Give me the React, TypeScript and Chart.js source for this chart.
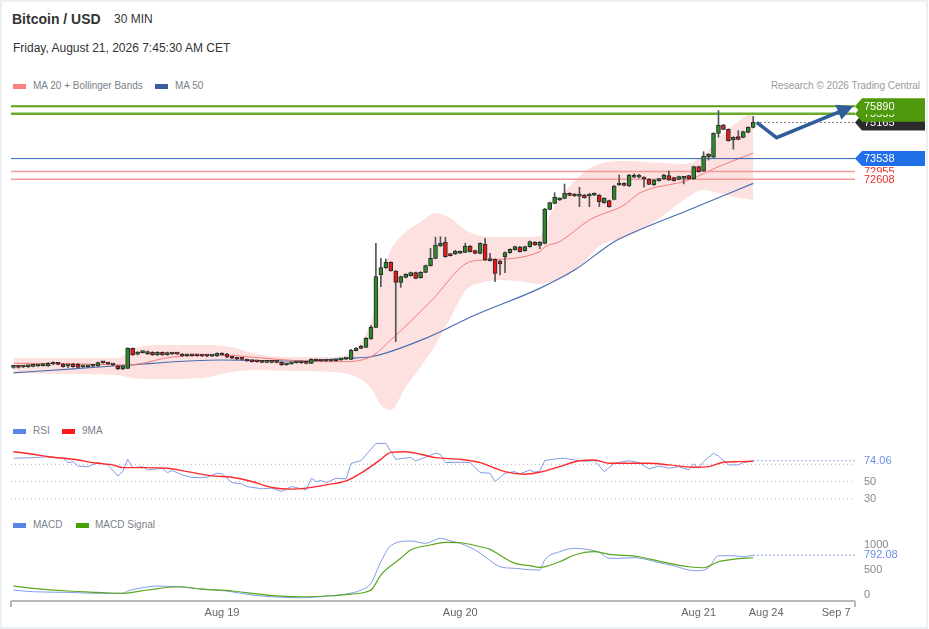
import React, { useEffect, useRef } from "react";
import { Chart, registerables } from "chart.js";

Chart.register(...registerables);

const FONT = "'Liberation Sans', Arial, Helvetica, sans-serif";
Chart.defaults.font.family = FONT;

// ---------------- data ----------------
const candleOpen = [
  64140, 64150, 64160, 64175, 64190, 64205, 64220, 64205, 64300, 64290,
  64295, 64210, 64295, 64280, 64165, 64170, 64195, 64205, 64355, 64320,
  64270, 64205, 64070, 64100, 65000, 64740, 64810, 64745, 64820, 64700,
  64820, 64700, 64760, 64750, 64745, 64665, 64670, 64665, 64660, 64655,
  64650, 64655, 64775, 64745, 64590, 64555, 64510, 64505, 64430, 64400,
  64395, 64370, 64375, 64370, 64370, 64260, 64300, 64350, 64355, 64345,
  64325, 64500, 64430, 64435, 64430, 64440, 64480, 64515, 64505, 64895,
  65000, 65045, 65420, 65945, 68300, 68630, 68870, 68480, 67970, 68195,
  68270, 68405, 68180, 68420, 68720, 69050, 69605, 69770, 69245, 69245,
  69280, 69320, 69605, 69395, 69275, 69695, 68945, 69005, 68930, 69110,
  69305, 69440, 69560, 69395, 69575, 69770, 69630, 69725, 71255, 71525,
  71675, 71750, 71975, 71945, 71850, 71900, 71855, 71890, 71900, 71555,
  71645, 71705, 72350, 72425, 72305, 72700, 72700, 72695, 72620, 72350,
  72545, 72620, 72770, 72680, 72605, 72650, 72770, 72620, 73175, 72980,
  73625, 73600, 74675, 75050, 74855, 74375, 74525, 74495, 74720, 74945,
];
const candleClose = [
  64150, 64145, 64175, 64180, 64205, 64220, 64250, 64325, 64295, 64280,
  64175, 64220, 64175, 64145, 64175, 64180, 64205, 64355, 64350, 64295,
  64250, 64070, 64205, 65000, 64700, 64760, 64830, 64850, 64700, 64820,
  64700, 64805, 64745, 64740, 64655, 64670, 64665, 64660, 64655, 64650,
  64660, 64775, 64700, 64600, 64555, 64510, 64505, 64430, 64400, 64395,
  64370, 64375, 64370, 64365, 64250, 64295, 64350, 64355, 64350, 64325,
  64505, 64430, 64435, 64430, 64440, 64475, 64515, 64520, 64925, 65000,
  65075, 65450, 65945, 68225, 68630, 68870, 68495, 67970, 68225, 68330,
  68405, 68150, 68420, 68720, 69050, 69650, 69725, 69125, 69170, 69380,
  69350, 69605, 69350, 69275, 69725, 68975, 69005, 68375, 68795, 69310,
  69455, 69575, 69350, 69580, 69805, 69650, 69775, 71270, 71555, 71795,
  71750, 71975, 71885, 71855, 71880, 71780, 71945, 71975, 71600, 71750,
  71375, 72305, 72425, 72335, 72800, 72770, 72800, 72620, 72380, 72575,
  72620, 72800, 72575, 72545, 72725, 72710, 72620, 73175, 72950, 73655,
  73730, 74675, 75050, 74855, 74345, 74495, 74405, 74750, 74945, 75165,
];
const candleHigh = [
  64190, 64190, 64215, 64220, 64245, 64260, 64290, 64360, 64385, 64330,
  64330, 64260, 64320, 64310, 64210, 64215, 64240, 64380, 64390, 64340,
  64290, 64230, 64225, 65030, 65020, 64850, 64880, 64880, 64850, 64850,
  64840, 64830, 64790, 64780, 64770, 64700, 64695, 64690, 64680, 64680,
  64690, 64800, 64800, 64770, 64610, 64570, 64530, 64520, 64450, 64420,
  64410, 64395, 64395, 64390, 64390, 64320, 64375, 64380, 64380, 64365,
  64530, 64520, 64455, 64455, 64460, 64500, 64540, 64545, 64950, 65030,
  65140, 65480, 66040, 69725, 69050, 69020, 68900, 68500, 68250, 68360,
  68430, 68430, 68450, 68750, 69500, 70000, 70025, 70000, 69270, 69410,
  69380, 69730, 69630, 69420, 69750, 69950, 69275, 69030, 68960, 69340,
  69480, 69600, 69585, 69600, 69830, 69800, 69800, 71300, 71580, 72005,
  71780, 72395, 72000, 71970, 72245, 71925, 71970, 72000, 71925, 71780,
  71670, 72330, 72800, 72450, 72830, 72850, 72830, 72720, 72640, 72600,
  72650, 72830, 72980, 72700, 72750, 72740, 72790, 73200, 73200, 73850,
  73760, 74700, 75700, 75080, 74880, 74520, 74795, 74775, 74970, 75430,
];
const candleLow = [
  64100, 64110, 64130, 64140, 64165, 64180, 64200, 64185, 64260, 64250,
  64150, 64130, 64150, 64120, 64140, 64145, 64170, 64190, 64320, 64270,
  64220, 64040, 64040, 64080, 64680, 64700, 64790, 64720, 64680, 64680,
  64680, 64690, 64720, 64720, 64640, 64640, 64645, 64640, 64630, 64630,
  64630, 64640, 64680, 64580, 64530, 64490, 64480, 64410, 64380, 64375,
  64350, 64350, 64345, 64340, 64230, 64240, 64280, 64330, 64320, 64300,
  64310, 64410, 64410, 64410, 64410, 64420, 64460, 64495, 64490, 64880,
  64985, 65030, 65400, 65930, 67775, 68600, 68470, 65300, 67745, 68170,
  68250, 68130, 68160, 68400, 68700, 69030, 69580, 69100, 69150, 69220,
  69260, 69300, 69330, 69250, 69250, 68950, 68920, 68000, 68300, 68400,
  69280, 69420, 69330, 69370, 69550, 69630, 69480, 69700, 71230, 71500,
  71650, 71730, 71860, 71830, 71375, 71760, 71375, 71870, 71380, 71530,
  71350, 71680, 72330, 72310, 72280, 72680, 72670, 72250, 72360, 72330,
  72520, 72600, 72550, 72520, 72580, 72400, 72600, 72600, 72930, 72960,
  73475, 73580, 74500, 74830, 74320, 73960, 74380, 74470, 74700, 74920,
];

const bandX = [0, 10, 21, 24, 30, 38, 44, 48, 56, 64, 68, 72, 74, 76, 79, 82, 85, 88, 91, 94, 98, 103, 106, 108, 111, 115, 118, 123, 127, 131, 135, 139, 142, 145, 149];
const bandUpper = [64565, 64565, 64565, 64970, 65150, 65150, 65060, 64790, 64610, 64610, 64835, 66185, 68075, 69425, 70235, 70685, 71090, 70865, 70325, 70055, 70010, 70010, 70055, 71000, 72035, 72935, 73295, 73430, 73385, 73340, 73295, 73700, 74465, 75050, 75680];
const bandLower = [63890, 63845, 63800, 63665, 63620, 63665, 63935, 64025, 63980, 63935, 63800, 63215, 62450, 62225, 63260, 64160, 65150, 66365, 67580, 67940, 68075, 67985, 67895, 67985, 68210, 68885, 69605, 69965, 70415, 71000, 71675, 72125, 71990, 71810, 71675];

const ma20X = [0, 9, 23, 32, 42, 50, 58, 66, 72, 76, 84, 92, 95, 106, 107, 110, 116, 123, 126, 136, 142, 149];
const ma20Y = [64325, 64320, 64250, 64610, 64700, 64565, 64430, 64400, 64625, 65375, 67100, 68900, 68975, 69350, 69560, 69800, 70775, 71450, 71975, 72575, 73175, 73785];

const ma50X = [0, 12, 23, 42, 58, 67, 72, 83, 93, 106, 113, 121, 126, 136, 149];
const ma50Y = [63900, 64075, 64250, 64475, 64430, 64550, 64620, 65450, 66500, 67700, 68520, 69800, 70325, 71225, 72425];

const levelValues = [75890, 75555, 73538, 72955, 72608];
const projectionX = [149.7, 153.7, 168.4];
const projectionY = [75165, 74480, 75830];

const rsiX = [0, 4, 7, 10, 11, 12, 13, 15, 17, 19, 21, 22, 23, 24, 26, 27, 30, 31, 32, 34, 36, 39, 41, 42, 44, 46, 47, 50, 52, 54, 56, 59, 60, 61, 62, 63, 65, 67, 68, 70, 73, 75, 77, 80, 81, 85, 86, 87, 90, 92, 94, 96, 97, 99, 101, 102, 104, 105, 106, 107, 109, 111, 113, 115, 117, 119, 121, 124, 126, 128, 130, 132, 134, 136, 137, 138, 139, 140, 141, 142, 144, 146, 147, 149];
const rsiY = [77, 77.7, 78.8, 77, 72, 73, 68, 67.3, 72, 69.3, 56.6, 61.5, 75.8, 66, 67.3, 63.5, 65.4, 60.4, 62.7, 57.7, 54.6, 55, 59.7, 58.9, 48.8, 47.3, 44.2, 41.6, 42.4, 38.5, 44.2, 40.4, 53.9, 50, 51.2, 48.8, 53.9, 53, 71.2, 74.2, 94.3, 94.3, 75.8, 78.1, 73.9, 82.8, 81.6, 72, 72.4, 72, 60.4, 59.7, 50, 59.7, 61.5, 58.9, 63.5, 60.8, 62.3, 74.2, 76.2, 77, 75, 73.5, 74.2, 61.5, 71.2, 74.2, 72, 64.6, 68.1, 65.4, 67.3, 63.5, 70.4, 65.4, 73.1, 78.1, 82.8, 79.6, 69.3, 69.3, 72, 74.06];
const rsiMaX = [0, 4, 7, 12, 17, 20, 22, 26, 31, 35, 40, 44, 48, 52, 56, 59, 63, 67, 71, 74, 76, 79, 82, 85, 90, 94, 97, 99, 103, 106, 110, 114, 117, 120, 124, 128, 132, 137, 140, 143, 146, 149];
const rsiMaY = [84.6, 81.6, 78.8, 75.8, 71.2, 69.3, 66.1, 66.1, 65.4, 61.5, 56.6, 55, 50, 43.1, 41.2, 42.4, 46.2, 50.8, 63.5, 75.8, 83.9, 84.6, 81.6, 77.7, 75.8, 72, 65.4, 61.5, 58.5, 60.8, 67.3, 74.2, 75, 71.2, 71.2, 71.2, 69.3, 66.6, 67.3, 72.4, 73.1, 73.5];
const rsiGridValues = [70, 50, 30];

const macdX = [0, 4, 11, 17, 22, 23, 26, 29, 33, 38, 43, 48, 52, 58, 63, 67, 70, 72, 74, 76, 80, 83, 86, 88, 90, 93, 95, 98, 101, 103, 106, 107, 110, 113, 115, 118, 120, 122, 125, 128, 130, 133, 136, 138, 140, 142, 145, 147, 149];
const macdY = [91, 56, 44, 24, 24, 71, 137, 171, 157, 111, 71, -10, -44, -65, -30, 10, 91, 226, 661, 984, 1079, 1032, 1133, 1079, 1032, 897, 762, 560, 528, 508, 494, 696, 863, 931, 917, 851, 730, 730, 742, 696, 641, 581, 494, 480, 540, 782, 782, 762, 792.08];
const signalX = [0, 4, 11, 17, 22, 27, 33, 38, 44, 51, 58, 64, 68, 72, 74, 78, 80, 84, 87, 90, 94, 96, 99, 101, 104, 106, 110, 113, 117, 120, 126, 130, 136, 139, 142, 145, 149];
const signalY = [171, 125, 71, 44, 24, 91, 157, 111, 71, -10, -44, -24, 10, 91, 393, 730, 897, 998, 1052, 1044, 964, 911, 730, 629, 581, 548, 661, 796, 863, 810, 762, 675, 560, 540, 661, 710, 742];
const macdTickValues = [1000, 500, 0];

const xTickValues = [42, 90, 138, 151.6, 165.7];
const xTickLabels = ["Aug 19", "Aug 20", "Aug 21", "Aug 24", "Sep 7"];

// ---------------- layout / style ----------------
const X_MIN = -0.5;
const X_MAX = 169.5;
const PAD = { left: 11, right: 74, top: 0, bottom: 0 };
const GREEN = "#2a8a2a";
const RED = "#e81818";
const BLUE_IND = "#6b8de3";

const pts = (xs: number[], ys: number[]) => xs.map((x, i) => ({ x, y: ys[i] }));
const hline = (v: number, from = X_MIN) => [{ x: from, y: v }, { x: X_MAX, y: v }];

const baseOptions = (yMin: number, yMax: number, padBottom = 0): any => ({
  animation: false,
  responsive: false,
  events: [],
  layout: { padding: { ...PAD, bottom: padBottom } },
  plugins: { legend: { display: false }, tooltip: { enabled: false } },
  scales: {
    x: { type: "linear", min: X_MIN, max: X_MAX, display: false, offset: false },
    y: { type: "linear", min: yMin, max: yMax, display: false },
  },
  elements: { point: { radius: 0 } },
});

const lineDs = (label: string, data: any[], color: string, width: number, extra: any = {}) => ({
  type: "line",
  label,
  data,
  borderColor: color,
  backgroundColor: color,
  borderWidth: width,
  pointRadius: 0,
  fill: false,
  ...extra,
});

// ---------------- plugins ----------------
const arrowPlugin = {
  id: "arrowHead",
  afterDatasetsDraw(chart: any) {
    const i = chart.data.datasets.findIndex((d: any) => d.label === "projection");
    if (i < 0) return;
    const p = chart.getDatasetMeta(i).data;
    const a = p[p.length - 2];
    const b = p[p.length - 1];
    const dx = b.x - a.x;
    const dy = b.y - a.y;
    const len = Math.hypot(dx, dy) || 1;
    const ux = dx / len;
    const uy = dy / len;
    const tipX = b.x + ux * 4;
    const tipY = b.y + uy * 4;
    const L = 16;
    const Wd = 8;
    const bx = tipX - ux * L;
    const by = tipY - uy * L;
    const ctx = chart.ctx;
    ctx.save();
    ctx.fillStyle = "#2f5d9c";
    ctx.beginPath();
    ctx.moveTo(tipX, tipY);
    ctx.lineTo(bx - uy * Wd, by + ux * Wd);
    ctx.lineTo(bx + uy * Wd, by - ux * Wd);
    ctx.closePath();
    ctx.fill();
    ctx.restore();
  },
};

const tagPlugin = {
  id: "priceTags",
  afterDraw(chart: any) {
    const { ctx, chartArea, scales } = chart;
    const ys = scales.y;
    const x0 = chartArea.right;
    const x1 = 925;
    ctx.save();
    ctx.font = `11px ${FONT}`;
    ctx.textBaseline = "middle";
    ctx.textAlign = "left";
    const arrowTag = (v: number, bg: string, h: number) => {
      const y = ys.getPixelForValue(v);
      ctx.beginPath();
      ctx.moveTo(x0, y);
      ctx.lineTo(x0 + 7, y - h / 2);
      ctx.lineTo(x1, y - h / 2);
      ctx.lineTo(x1, y + h / 2);
      ctx.lineTo(x0 + 7, y + h / 2);
      ctx.closePath();
      ctx.fillStyle = bg;
      ctx.fill();
      ctx.fillStyle = "#ffffff";
      ctx.fillText(String(v), x0 + 9, y + 0.5);
    };
    const textTag = (v: number, color: string) => {
      const y = ys.getPixelForValue(v);
      ctx.fillStyle = "#ffffff";
      ctx.fillRect(x0 + 2, y - 6.5, x1 - x0 - 2, 13);
      ctx.fillStyle = color;
      ctx.fillText(String(v), x0 + 9, y + 0.5);
    };
    const current = candleClose[candleClose.length - 1];
    arrowTag(current, "#2b2b2b", 16);
    arrowTag(levelValues[1], "#4f9a0c", 16);
    arrowTag(levelValues[0], "#4f9a0c", 16);
    textTag(levelValues[3], "#e8302a");
    textTag(levelValues[4], "#e8302a");
    arrowTag(levelValues[2], "#1f6fe8", 15);
    ctx.restore();
  },
};

const rsiPlugin = {
  id: "rsiLabels",
  afterDraw(chart: any) {
    const { ctx, chartArea, scales } = chart;
    const lx = chartArea.right + 9;
    ctx.save();
    ctx.font = `11px ${FONT}`;
    ctx.textBaseline = "middle";
    ctx.fillStyle = "#888";
    rsiGridValues.forEach((v) => ctx.fillText(String(v), lx, scales.y.getPixelForValue(v)));
    const last = rsiY[rsiY.length - 1];
    const yl = scales.y.getPixelForValue(last);
    ctx.fillStyle = "#ffffff";
    ctx.fillRect(lx - 2, yl - 6.5, 50, 13);
    ctx.fillStyle = BLUE_IND;
    ctx.fillText(last.toFixed(2), lx, yl);
    ctx.restore();
  },
};

const macdPlugin = {
  id: "macdDecor",
  afterDraw(chart: any) {
    const { ctx, chartArea, scales } = chart;
    const lx = chartArea.right + 9;
    ctx.save();
    ctx.font = `11px ${FONT}`;
    ctx.textBaseline = "middle";
    ctx.fillStyle = "#888";
    macdTickValues.forEach((v) => ctx.fillText(String(v), lx, scales.y.getPixelForValue(v)));
    const last = macdY[macdY.length - 1];
    ctx.fillStyle = BLUE_IND;
    ctx.fillText(last.toFixed(2), lx, scales.y.getPixelForValue(last));
    // x axis
    const yb = chartArea.bottom + 1;
    ctx.strokeStyle = "#b8b8b8";
    ctx.lineWidth = 2;
    ctx.beginPath();
    ctx.moveTo(chartArea.left, yb);
    ctx.lineTo(chartArea.right, yb);
    ctx.moveTo(chartArea.left, yb);
    ctx.lineTo(chartArea.left, yb + 6);
    ctx.moveTo(chartArea.right, yb);
    ctx.lineTo(chartArea.right, yb + 6);
    ctx.stroke();
    ctx.fillStyle = "#666";
    ctx.textAlign = "center";
    xTickValues.forEach((v, k) =>
      ctx.fillText(xTickLabels[k], scales.x.getPixelForValue(v), chartArea.bottom + 13)
    );
    ctx.restore();
  },
};

// ---------------- charts ----------------
function MainChart() {
  const ref = useRef<HTMLCanvasElement>(null);
  useEffect(() => {
    const idx = candleOpen.map((_, i) => i);
    const current = candleClose[candleClose.length - 1];
    const chart = new Chart(ref.current as HTMLCanvasElement, {
      type: "line",
      data: {
        datasets: [
          lineDs("bandUpper", pts(bandX, bandUpper), "rgba(0,0,0,0)", 0, {
            fill: "+1",
            backgroundColor: "#fde1e1",
            cubicInterpolationMode: "monotone",
            order: 30,
          }),
          lineDs("bandLower", pts(bandX, bandLower), "rgba(0,0,0,0)", 0, {
            cubicInterpolationMode: "monotone",
            order: 30,
          }),
          lineDs("ma20", pts(ma20X, ma20Y), "#f47a7a", 1, { cubicInterpolationMode: "monotone", order: 20 }),
          lineDs("ma50", pts(ma50X, ma50Y), "#4a6db2", 1.2, { cubicInterpolationMode: "monotone", order: 20 }),
          lineDs("l0", hline(levelValues[0]), "#5a9e12", 2, { order: 15 }),
          lineDs("l1", hline(levelValues[1]), "#6aab2a", 2.5, { order: 15 }),
          lineDs("l2", hline(levelValues[2]), "#3560b8", 1, { order: 15 }),
          lineDs("l3", hline(levelValues[3]), "#f59a9a", 1.5, { order: 15 }),
          lineDs("l4", hline(levelValues[4]), "#f59a9a", 1.5, { order: 15 }),
          lineDs("current", hline(current, 150.4), "#555", 1, { borderDash: [1.5, 2.5], order: 14 }),
          {
            type: "bar",
            label: "wicks",
            data: idx.map((i) => ({ x: i, y: [candleLow[i], candleHigh[i]] })),
            backgroundColor: "#555",
            barThickness: 1,
            grouped: false,
            order: 8,
          },
          {
            type: "bar",
            label: "bodies",
            data: idx.map((i) => ({ x: i, y: [candleOpen[i], candleClose[i]] })),
            backgroundColor: idx.map((i) => (candleClose[i] >= candleOpen[i] ? GREEN : RED)),
            borderColor: "#2a2a2a",
            borderWidth: 1,
            borderSkipped: false,
            barThickness: 4,
            minBarLength: 2,
            grouped: false,
            order: 7,
          },
          lineDs("projection", pts(projectionX, projectionY), "#2f5d9c", 3.5, {
            tension: 0,
            borderJoinStyle: "miter",
            order: 2,
          }),
        ] as any,
      },
      options: baseOptions(62000, 76400),
      plugins: [arrowPlugin, tagPlugin],
    } as any);
    return () => chart.destroy();
  }, []);
  return (
    <canvas
      ref={ref}
      width={929}
      height={320}
      style={{ position: "absolute", left: 0, top: 95, width: 929, height: 320 }}
    />
  );
}

function RsiChart() {
  const ref = useRef<HTMLCanvasElement>(null);
  useEffect(() => {
    const last = rsiY[rsiY.length - 1];
    const chart = new Chart(ref.current as HTMLCanvasElement, {
      type: "line",
      data: {
        datasets: [
          ...rsiGridValues.map((v, k) =>
            lineDs("g" + k, hline(v), "#b5b5b5", 1, { borderDash: [1, 3], order: 20 })
          ),
          lineDs("rsiLast", hline(last, 149), BLUE_IND, 1, { borderDash: [1.5, 2.5], order: 15 }),
          lineDs("rsi", pts(rsiX, rsiY), "#7f9ce8", 1, { tension: 0, order: 5 }),
          lineDs("rsiMa", pts(rsiMaX, rsiMaY), "#ff2a2a", 1.4, { cubicInterpolationMode: "monotone", order: 4 }),
        ] as any,
      },
      options: baseOptions(17, 104),
      plugins: [rsiPlugin],
    } as any);
    return () => chart.destroy();
  }, []);
  return (
    <canvas
      ref={ref}
      width={929}
      height={75}
      style={{ position: "absolute", left: 0, top: 435, width: 929, height: 75 }}
    />
  );
}

function MacdChart() {
  const ref = useRef<HTMLCanvasElement>(null);
  useEffect(() => {
    const last = macdY[macdY.length - 1];
    const chart = new Chart(ref.current as HTMLCanvasElement, {
      type: "line",
      data: {
        datasets: [
          lineDs("macdLast", hline(last, 149), BLUE_IND, 1, { borderDash: [1.5, 2.5], order: 15 }),
          lineDs("macd", pts(macdX, macdY), "#7f9ce8", 1, { cubicInterpolationMode: "monotone", order: 5 }),
          lineDs("signal", pts(signalX, signalY), "#5aa61e", 1.2, { cubicInterpolationMode: "monotone", order: 4 }),
        ] as any,
      },
      options: baseOptions(-110, 1200, 29),
      plugins: [macdPlugin],
    } as any);
    return () => chart.destroy();
  }, []);
  return (
    <canvas
      ref={ref}
      width={929}
      height={94}
      style={{ position: "absolute", left: 0, top: 535, width: 929, height: 94 }}
    />
  );
}

// ---------------- page ----------------
const txt = (left: number, center: number, size: number, color: string, extra: any = {}): React.CSSProperties => ({
  position: "absolute",
  left,
  top: center - 8,
  lineHeight: "16px",
  fontSize: size,
  color,
  fontFamily: FONT,
  whiteSpace: "nowrap",
  ...extra,
});

const swatch = (left: number, center: number, color: string): React.CSSProperties => ({
  position: "absolute",
  left,
  top: center - 2.5,
  width: 13,
  height: 5,
  background: color,
});

export default function App() {
  return (
    <div
      style={{
        position: "absolute",
        left: 0,
        top: 0,
        width: 929,
        height: 629,
        background: "#fff",
        overflow: "hidden",
        fontFamily: FONT,
      }}
    >
      <div
        style={{
          position: "absolute",
          left: 0,
          top: 0,
          width: 928,
          height: 629,
          boxSizing: "border-box",
          border: "2px solid #edf0f3",
        }}
      />
      <div style={txt(12, 19, 14, "#333", { fontWeight: "bold" })}>Bitcoin / USD</div>
      <div style={txt(114, 19, 12, "#333")}>30 MIN</div>
      <div style={txt(13, 48, 12, "#333")}>Friday, August 21, 2026 7:45:30 AM CET</div>

      <div style={swatch(13, 86, "#ff7f7f")} />
      <div style={txt(33, 86, 10, "#7a7f88")}>MA 20 + Bollinger Bands</div>
      <div style={swatch(155, 86, "#3b5c9c")} />
      <div style={txt(175, 86, 10, "#7a7f88")}>MA 50</div>
      <div style={txt(0, 86, 10, "#9a9a9a", { left: undefined, right: 9 })}>Research © 2026 Trading Central</div>

      <div style={swatch(13, 431, "#5b84e6")} />
      <div style={txt(33, 431, 10, "#7a7f88")}>RSI</div>
      <div style={swatch(62, 431, "#ff1a1a")} />
      <div style={txt(82, 431, 10, "#7a7f88")}>9MA</div>

      <div style={swatch(13, 525, "#5b84e6")} />
      <div style={txt(33, 525, 10, "#7a7f88")}>MACD</div>
      <div style={swatch(76, 525, "#46a00a")} />
      <div style={txt(95, 525, 10, "#7a7f88")}>MACD Signal</div>

      <MainChart />
      <RsiChart />
      <MacdChart />
    </div>
  );
}
